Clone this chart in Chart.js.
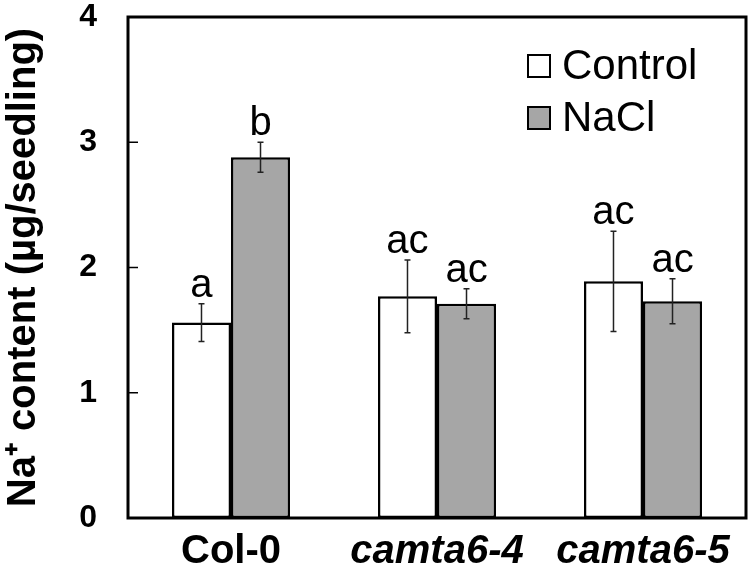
<!DOCTYPE html>
<html lang="en">
<head>
<meta charset="UTF-8">
<title>Na+ content</title>
<script src="https://cdn.jsdelivr.net/npm/chart.js"></script>
<style>
  html, body { margin: 0; padding: 0; background: #fff; }
  #wrap { width: 752px; height: 570px; }
</style>
</head>
<body>
<div id="wrap"><canvas id="chart" width="752" height="570"></canvas></div>
<script>
// data
const genotypes = ['Col-0', 'camta6-4', 'camta6-5'];
const controlValues = [1.56, 1.77, 1.89];
const controlErrors = [0.15, 0.29, 0.40];
const naclValues = [2.88, 1.71, 1.73];
const naclErrors = [0.12, 0.12, 0.18];
const controlLetters = ['a', 'ac', 'ac'];
const naclLetters = ['b', 'ac', 'ac'];
const yTicks = [0, 1, 2, 3, 4];

const FONT = "'Liberation Sans', Arial, sans-serif";
const errors = [controlErrors, naclErrors];
const letters = [controlLetters, naclLetters];

// frame + inward y ticks
const framePlugin = {
    id: 'frame',
    afterDraw(chart) {
        const { ctx, chartArea: a, scales } = chart;
        ctx.save();
        ctx.strokeStyle = '#000';
        ctx.lineWidth = 1.5;
        yTicks.forEach(t => {
            const y = scales.y.getPixelForValue(t);
            ctx.beginPath();
            ctx.moveTo(a.left, y);
            ctx.lineTo(a.left + 10, y);
            ctx.stroke();
        });
        ctx.lineWidth = 3;
        ctx.strokeRect(a.left, a.top, a.right - a.left, a.bottom - a.top);
        ctx.restore();
    }
};

// error bars and significance letters
const errorPlugin = {
    id: 'errors',
    afterDatasetsDraw(chart) {
        const { ctx, scales } = chart;
        ctx.save();
        chart.data.datasets.forEach((ds, i) => {
            const meta = chart.getDatasetMeta(i);
            meta.data.forEach((bar, j) => {
                const v = ds.data[j], e = errors[i][j];
                const yTop = scales.y.getPixelForValue(v + e);
                const yBot = scales.y.getPixelForValue(v - e);
                ctx.strokeStyle = '#222';
                ctx.lineWidth = 1.5;
                ctx.beginPath();
                ctx.moveTo(bar.x, yTop); ctx.lineTo(bar.x, yBot);
                ctx.moveTo(bar.x - 3, yTop); ctx.lineTo(bar.x + 3, yTop);
                ctx.moveTo(bar.x - 3, yBot); ctx.lineTo(bar.x + 3, yBot);
                ctx.stroke();
                ctx.fillStyle = '#000';
                ctx.font = '40px ' + FONT;
                ctx.textAlign = 'center';
                ctx.textBaseline = 'alphabetic';
                ctx.fillText(letters[i][j], bar.x, yTop - 7);
            });
        });
        ctx.restore();
    }
};

// legend inside the plot, top right
const legendPlugin = {
    id: 'boxLegend',
    afterDraw(chart) {
        const { ctx, chartArea: a } = chart;
        ctx.save();
        chart.data.datasets.forEach((ds, i) => {
            const x = a.right - 218, y = a.top + 38 + i * 52;
            ctx.fillStyle = ds.backgroundColor;
            ctx.fillRect(x, y, 22, 22);
            ctx.strokeStyle = '#000';
            ctx.lineWidth = 2;
            ctx.strokeRect(x, y, 22, 22);
            ctx.fillStyle = '#000';
            ctx.font = '42px ' + FONT;
            ctx.textAlign = 'left';
            ctx.textBaseline = 'middle';
            ctx.fillText(ds.label, x + 34, y + 12);
        });
        ctx.restore();
    }
};

new Chart(document.getElementById('chart'), {
    type: 'bar',
    data: {
        labels: genotypes,
        datasets: [
            {
                label: 'Control',
                data: controlValues,
                backgroundColor: '#ffffff',
                borderColor: '#000',
                borderWidth: 2.5,
                borderSkipped: false,
                categoryPercentage: 0.573,
                barPercentage: 1
            },
            {
                label: 'NaCl',
                data: naclValues,
                backgroundColor: '#a6a6a6',
                borderColor: '#000',
                borderWidth: 2.5,
                borderSkipped: false,
                categoryPercentage: 0.573,
                barPercentage: 1
            }
        ]
    },
    options: {
        responsive: false,
        animation: false,
        devicePixelRatio: 1,
        layout: { padding: { top: 17, right: 6, left: 0, bottom: 0 } },
        plugins: {
            legend: { display: false },
            tooltip: { enabled: false }
        },
        scales: {
            x: {
                grid: { display: false, drawTicks: false },
                border: { display: false },
                ticks: {
                    color: '#000',
                    padding: 10,
                    maxRotation: 0,
                    autoSkip: false,
                    font: c => ({
                        family: FONT,
                        size: 40,
                        weight: 'bold',
                        style: c.index === 0 ? 'normal' : 'italic'
                    })
                },
                afterFit: s => {
                    s.height = 52;
                    s.paddingLeft = 0; s.paddingRight = 0;
                }
            },
            y: {
                min: 0,
                max: 4,
                grid: { display: false, drawTicks: false },
                border: { display: false },
                ticks: {
                    stepSize: 1,
                    color: '#000',
                    padding: 31,
                    font: { family: FONT, size: 32, weight: 'bold' }
                },
                title: {
                    display: true,
                    text: 'Na\u207A content (\u00B5g/seedling)',
                    color: '#000',
                    font: { family: FONT, size: 40, weight: 'bold' },
                    padding: 0
                },
                afterFit: s => {
                    s.width = 128;
                    s.paddingTop = 0; s.paddingBottom = 0;
                }
            }
        }
    },
    plugins: [framePlugin, errorPlugin, legendPlugin]
});
</script>
</body>
</html>
